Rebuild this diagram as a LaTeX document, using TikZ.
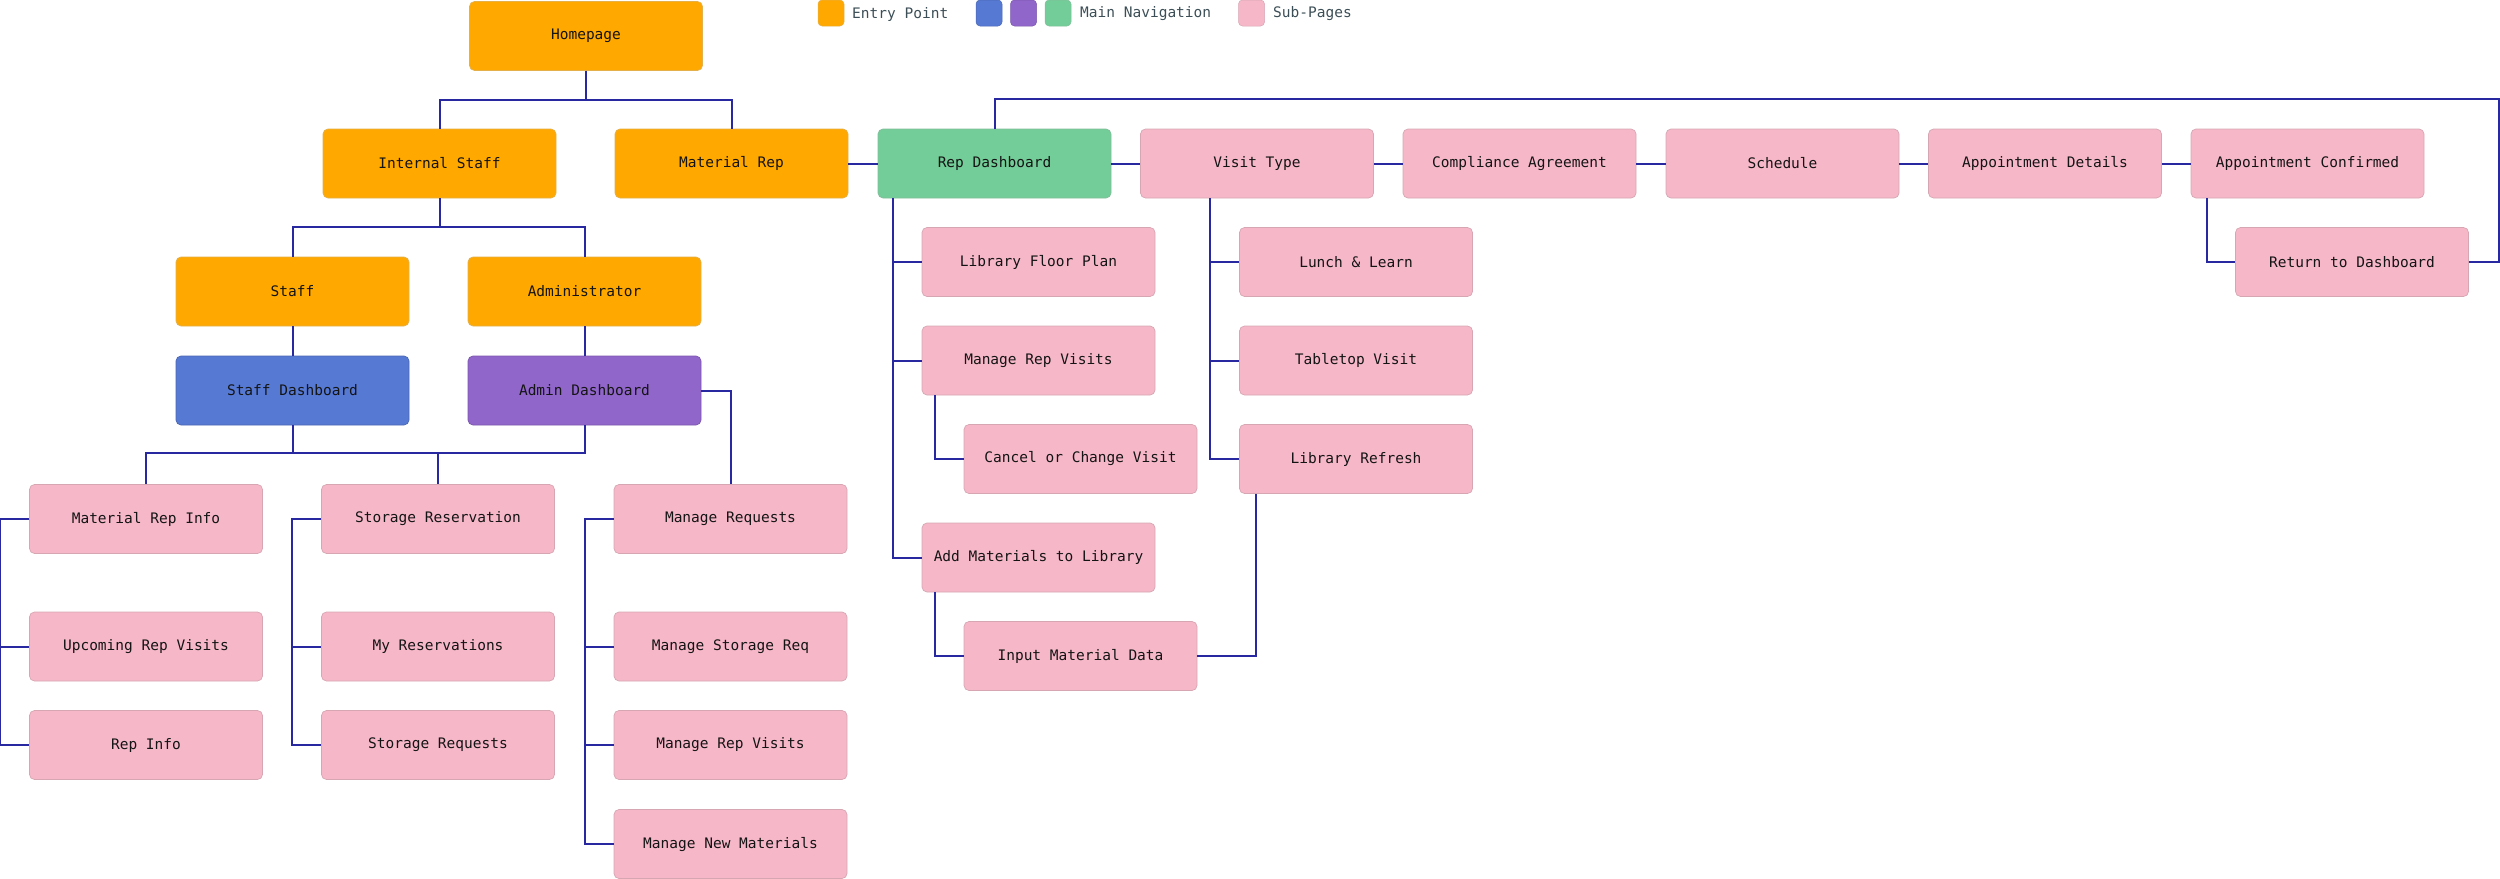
\documentclass[tikz,border=0pt]{standalone}
\usepackage{fontspec}
\setmonofont{DejaVu Sans Mono}
\definecolor{cOrange}{RGB}{255,168,0}
\definecolor{cBlue}{RGB}{86,121,211}
\definecolor{cPurple}{RGB}{145,102,203}
\definecolor{cGreen}{RGB}{115,205,152}
\definecolor{cPink}{RGB}{246,184,201}
\definecolor{cLine}{RGB}{40,40,160}
\definecolor{cText}{RGB}{20,20,20}
\definecolor{cLegend}{RGB}{60,78,86}
\begin{document}
\begin{tikzpicture}[x=1pt,y=-1pt,
  box/.style={rectangle, rounded corners=5pt, minimum width=233pt, minimum height=69pt,
    inner sep=0pt, line width=0.7pt, text=cText,
    font=\ttfamily\fontsize{14.5}{17}\selectfont},
  entry/.style={box, fill=cOrange, draw=cOrange!85!black!70},
  snav/.style={box, fill=cBlue, draw=cBlue!85!black},
  anav/.style={box, fill=cPurple, draw=cPurple!85!black},
  rnav/.style={box, fill=cGreen, draw=cGreen!85!black!80},
  sub/.style={box, fill=cPink, draw=cPink!85!black!90},
  swatch/.style={rectangle, rounded corners=4pt, minimum width=26pt, minimum height=26pt, inner sep=0pt, line width=0.5pt},
  legtext/.style={anchor=west, inner sep=0pt, text=cLegend, font=\ttfamily\fontsize{14.5}{17}\selectfont},
  conn/.style={draw=cLine, line width=2pt}
]
\useasboundingbox (0,0) rectangle (2500,878);

% legend
\node[swatch, fill=cOrange, draw=cOrange!85!black!70] (lg1) at (831,13) {};
\node[legtext] (lt1) at (852,14) {Entry Point};
\node[swatch, fill=cBlue, draw=cBlue!85!black] (lg2) at (989,13) {};
\node[swatch, fill=cPurple, draw=cPurple!85!black] (lg3) at (1023.5,13) {};
\node[swatch, fill=cGreen, draw=cGreen!85!black!80] (lg4) at (1058,13) {};
\node[legtext] (lt2) at (1080,14) {Main Navigation};
\node[swatch, fill=cPink, draw=cPink!85!black!90] (lg5) at (1251.5,13) {};
\node[legtext] (lt3) at (1273,14) {Sub-Pages};

% left tree
\node[entry] (home) at (586,36) {Homepage};
\node[entry] (is) at (439.5,163.5) {Internal Staff};
\node[entry] (mr) at (731.5,163.5) {Material Rep};
\node[entry] (staff) at (292.5,291.5) {Staff};
\node[entry] (admin) at (584.5,291.5) {Administrator};
\node[snav] (sd) at (292.5,390.5) {Staff Dashboard};
\node[anav] (ad) at (584.5,390.5) {Admin Dashboard};

\node[sub] (mri) at (146,519) {Material Rep Info};
\node[sub] (urv) at (146,646.5) {Upcoming Rep Visits};
\node[sub] (ri) at (146,745) {Rep Info};
\node[sub] (sr) at (438,519) {Storage Reservation};
\node[sub] (myr) at (438,646.5) {My Reservations};
\node[sub] (sreq) at (438,745) {Storage Requests};
\node[sub] (mreq) at (730.5,519) {Manage Requests};
\node[sub] (msr) at (730.5,646.5) {Manage Storage Req};
\node[sub] (mrvA) at (730.5,745) {Manage Rep Visits};
\node[sub] (mnm) at (730.5,844) {Manage New Materials};

% right flow
\node[rnav] (rd) at (994.5,163.5) {Rep Dashboard};
\node[sub] (vt) at (1257,163.5) {Visit Type};
\node[sub] (ca) at (1519.5,163.5) {Compliance Agreement};
\node[sub] (sch) at (1782.5,163.5) {Schedule};
\node[sub] (apd) at (2045,163.5) {Appointment Details};
\node[sub] (apc) at (2307.5,163.5) {Appointment Confirmed};
\node[sub] (ret) at (2352,262) {Return to Dashboard};

\node[sub] (lfp) at (1038.5,262) {Library Floor Plan};
\node[sub] (mrvB) at (1038.5,360.5) {Manage Rep Visits};
\node[sub] (cocv) at (1080.5,459) {Cancel or Change Visit};
\node[sub] (aml) at (1038.5,557.5) {Add Materials to Library};
\node[sub] (imd) at (1080.5,656) {Input Material Data};
\node[sub] (ll) at (1356,262) {Lunch \& Learn};
\node[sub] (tv) at (1356,360.5) {Tabletop Visit};
\node[sub] (lr) at (1356,459) {Library Refresh};

\coordinate (loopR) at (2499,99);

% connectors
\draw[conn] (home.south) -- ++(0,29) -| (is.north);
\draw[conn] (home.south) -- ++(0,29) -| (mr.north);
\draw[conn] (is.south) -- ++(0,29) -| (staff.north);
\draw[conn] (is.south) -- ++(0,29) -| (admin.north);
\draw[conn] (staff.south) -- (sd.north);
\draw[conn] (admin.south) -- (ad.north);
\draw[conn] (sd.south) -- ++(0,28) -| (mri.north);
\draw[conn] (ad.south) -- ++(0,28) -| (mri.north);
\draw[conn] (ad.south) -- ++(0,28) -| (sr.north);
\draw[conn] (ad.east) -| (mreq.north);

\draw[conn] (mri.west) -- ++(-29,0) |- (urv.west);
\draw[conn] (mri.west) -- ++(-29,0) |- (ri.west);
\draw[conn] (sr.west) -- ++(-29,0) |- (myr.west);
\draw[conn] (sr.west) -- ++(-29,0) |- (sreq.west);
\draw[conn] (mreq.west) -- ++(-29,0) |- (msr.west);
\draw[conn] (mreq.west) -- ++(-29,0) |- (mrvA.west);
\draw[conn] (mreq.west) -- ++(-29,0) |- (mnm.west);

\draw[conn] (mr.east) -- (rd.west);
\draw[conn] (rd.east) -- (vt.west);
\draw[conn] (vt.east) -- (ca.west);
\draw[conn] (ca.east) -- (sch.west);
\draw[conn] (sch.east) -- (apd.west);
\draw[conn] (apd.east) -- (apc.west);

\draw[conn] ([xshift=15pt]rd.south west) |- (lfp.west);
\draw[conn] ([xshift=15pt]rd.south west) |- (mrvB.west);
\draw[conn] ([xshift=15pt]rd.south west) |- (aml.west);
\draw[conn] ([xshift=13pt]mrvB.south west) |- (cocv.west);
\draw[conn] ([xshift=13pt]aml.south west) |- (imd.west);
\draw[conn] ([xshift=70pt]vt.south west) |- (ll.west);
\draw[conn] ([xshift=70pt]vt.south west) |- (tv.west);
\draw[conn] ([xshift=70pt]vt.south west) |- (lr.west);
\draw[conn] ([xshift=17pt]lr.south west) |- (imd.east);
\draw[conn] ([xshift=16pt]apc.south west) |- (ret.west);
\draw[conn] (ret.east) -| (loopR) -| (rd.north);
\end{tikzpicture}
\end{document}
